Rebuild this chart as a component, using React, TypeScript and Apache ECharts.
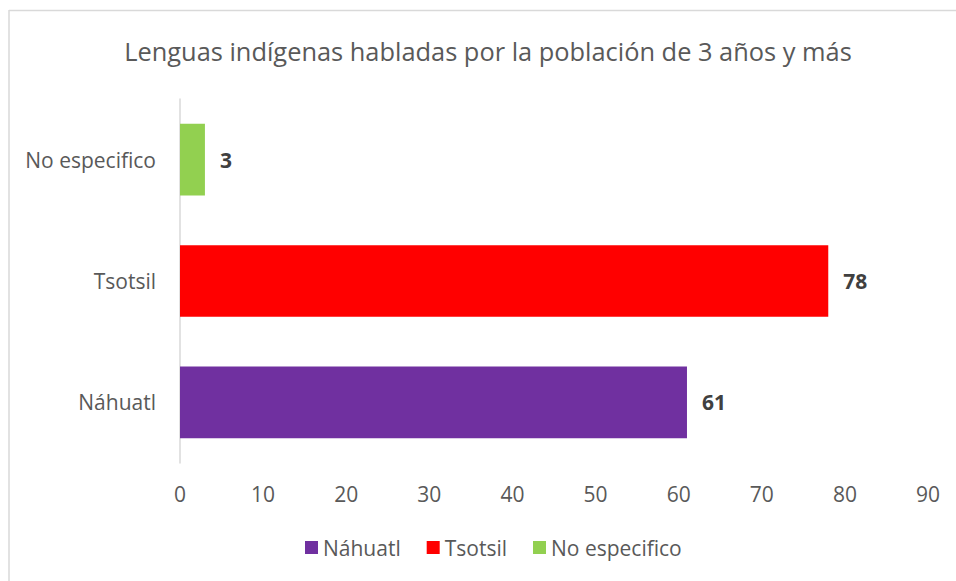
import React, { useEffect, useRef } from "react";
import * as echarts from "echarts";

const categories = ["Náhuatl", "Tsotsil", "No especifico"];
const seriesNames = ["Náhuatl", "Tsotsil", "No especifico"];
const values = [61, 78, 3];
const colors = ["#7030A0", "#FF0000", "#92D050"];
const xTicks = { min: 0, max: 90, interval: 10 };
const titleText = "Lenguas indígenas habladas por la población de 3 años y más";

const FONT = "'Open Sans', 'Noto Sans', sans-serif";

export default function App() {
  const ref = useRef<HTMLDivElement>(null);
  useEffect(() => {
    document.body.style.margin = "0";
    const chart = echarts.init(ref.current!, null, { renderer: "svg" });
    const series = seriesNames.map((name, i) => ({
      name,
      type: "bar",
      stack: "total",
      barCategoryGap: "41%",
      itemStyle: { color: colors[i] },
      label: {
        show: true,
        position: "right",
        distance: 15,
        fontFamily: FONT,
        fontSize: 21,
        fontWeight: "bold",
        color: "#404040",
      },
      data: categories.map((_, j) => (j === i ? values[i] : "-")),
    }));
    chart.setOption({
      animation: false,
      backgroundColor: "#ffffff",
      title: {
        text: titleText,
        left: 483,
        top: 33,
        textAlign: "center",
        textStyle: {
          fontFamily: FONT,
          fontSize: 25.4,
          fontWeight: "normal",
          color: "#595959",
        },
      },
      graphic: [
        {
          type: "line",
          shape: { x1: 9, y1: 10.5, x2: 956, y2: 10.5 },
          style: { stroke: "#d9d9d9", lineWidth: 1.5 },
        },
        {
          type: "line",
          shape: { x1: 9, y1: 10, x2: 9, y2: 581 },
          style: { stroke: "#d9d9d9", lineWidth: 1.5 },
        },
      ],
      legend: {
        left: 300,
        top: 532,
        itemWidth: 13,
        itemHeight: 13,
        itemGap: 26,
        icon: "rect",
        data: seriesNames,
        textStyle: { fontFamily: FONT, fontSize: 21, color: "#595959" },
      },
      grid: { left: 180, right: 28, top: 99, bottom: 118, containLabel: false },
      xAxis: {
        type: "value",
        min: xTicks.min,
        max: xTicks.max,
        interval: xTicks.interval,
        axisLine: { show: false },
        axisTick: { show: false },
        splitLine: { show: false },
        axisLabel: {
          margin: 20,
          fontFamily: FONT,
          fontSize: 21,
          color: "#595959",
        },
      },
      yAxis: {
        type: "category",
        data: categories,
        axisLine: { show: true, lineStyle: { color: "#d9d9d9", width: 1.5 } },
        axisTick: { show: false },
        axisLabel: {
          margin: 24,
          fontFamily: FONT,
          fontSize: 21,
          color: "#595959",
        },
      },
      series,
    });
    return () => chart.dispose();
  }, []);
  return (
    <div
      ref={ref}
      style={{ position: "fixed", left: 0, top: 0, width: 956, height: 581 }}
    />
  );
}
